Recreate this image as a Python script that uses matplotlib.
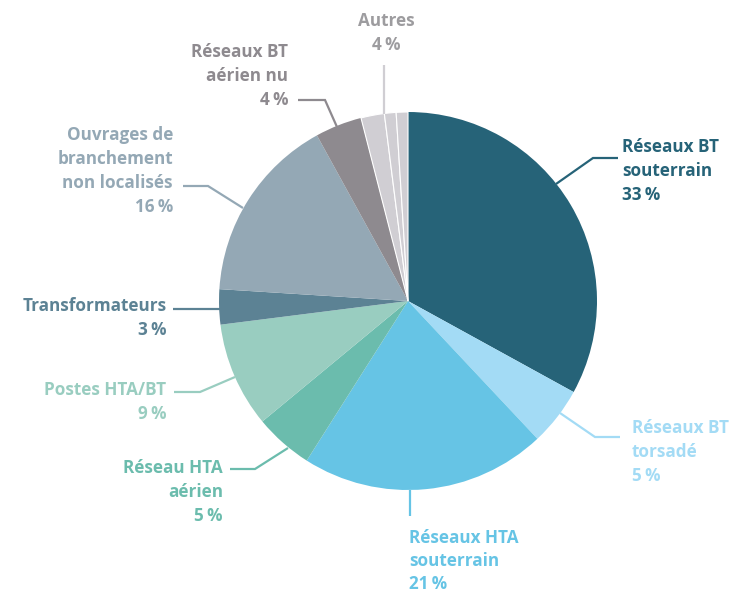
import matplotlib
matplotlib.use("Agg")
import matplotlib.pyplot as plt
import numpy as np

# ---- data ----
categories = ["Réseaux BT\nsouterrain", "Réseaux BT\ntorsadé", "Réseaux HTA\nsouterrain",
              "Réseau HTA\naérien", "Postes HTA/BT", "Transformateurs",
              "Ouvrages de\nbranchement\nnon localisés", "Réseaux BT\naérien nu", "Autres"]
values = [33, 5, 21, 5, 9, 3, 16, 4, 4]
autres_parts = [2, 1, 1]
pct_labels = ["33\u2009%", "5\u2009%", "21\u2009%", "5\u2009%", "9\u2009%", "3\u2009%", "16\u2009%", "4\u2009%", "4\u2009%"]

slice_colors = ["#266378", "#a3dbf5", "#66c4e5", "#6bbcad", "#99cdc0", "#5c8294",
                "#94a8b5", "#8e8a8f", "#d0ced3"]
text_colors = ["#266378", "#a3dbf5", "#66c4e5", "#6bbcad", "#99cdc0", "#5c8294",
               "#94a8b5", "#8e8a8f", "#9d9c9f"]

W, H = 747, 595
fig = plt.figure(figsize=(W / 100, H / 100), dpi=100)
ax = fig.add_axes([0, 0, 1, 1])

def Y(y):
    return H - y

cx, cy, r = 408, 301, 189

pie_vals = values[:-1] + autres_parts
pie_cols = slice_colors[:-1] + [slice_colors[-1]] * len(autres_parts)
wedges, _ = ax.pie(pie_vals, colors=pie_cols, startangle=90, counterclock=False,
                   center=(cx, Y(cy)), radius=r, frame=True,
                   wedgeprops=dict(linewidth=0))
for w in wedges[len(values) - 1:]:
    w.set_edgecolor("white")
    w.set_linewidth(0.8)
ax.set_xlim(0, W)
ax.set_ylim(0, H)
ax.set_aspect("equal")
ax.axis("off")

font = dict(family=["Open Sans", "DejaVu Sans"], fontweight="bold", fontsize=12.3)

# label layout: (x, y_center_first_line, ha, leader polyline in pixels)
layout = [
    (622, 147, "left",   [(556, 184), (593, 158), (618, 158)]),
    (632, 428, "left",   [(560, 413), (595, 437), (620, 437)]),
    (409, 538, "left",   [(410, 490), (410, 516)]),
    (223, 468, "right",  [(288, 448), (255, 469), (230, 469)]),
    (166, 390, "right",  [(235, 377), (200, 392), (174, 392)]),
    (167, 306, "right",  [(220, 309), (173, 309)]),
    (173, 135, "right",  [(243, 208), (208, 186), (183, 186)]),
    (288, 52,  "right",  [(337, 127), (325, 100), (298, 100)]),
    (386, 21,  "center", [(384, 114), (384, 65)]),
]
line_step = 24

for i, (x, y0, ha, pts) in enumerate(layout):
    lines = categories[i].split("\n") + [pct_labels[i]]
    step = 23 if i == 2 else line_step
    for k, s in enumerate(lines):
        ax.text(x, Y(y0 + k * step), s, ha=ha, va="center",
                color=text_colors[i], **font)
    xs = [p[0] for p in pts]
    ys = [Y(p[1]) for p in pts]
    ax.plot(xs, ys, color=slice_colors[i], lw=1.6, solid_capstyle="butt",
            solid_joinstyle="miter")

fig.savefig("out.png", dpi=100)
